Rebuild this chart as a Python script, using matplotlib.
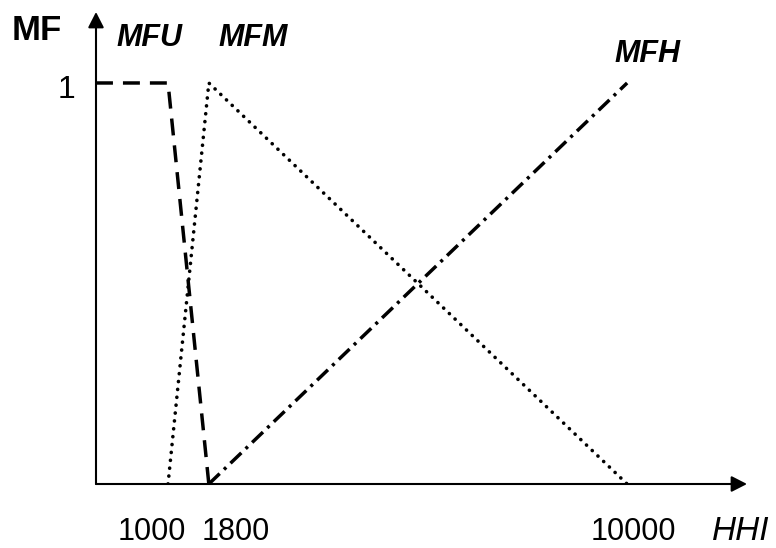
import matplotlib
matplotlib.use("Agg")
import matplotlib.pyplot as plt

plt.rcParams['font.family'] = ['Liberation Sans', 'DejaVu Sans']
plt.rcParams['lines.scale_dashes'] = False

# ---- data ----
X_MIN, X_MAX = -412, 12350
Y_MAX = 1.177
tick_values = [1000, 1800, 10000]
tick_labels = ["1000", "1800", "10000"]
mfu_x = [X_MIN, 1000, 1800]
mfu_y = [1, 1, 0]
mfm_x = [1000, 1800, 10000]
mfm_y = [0, 1, 0]
mfh_x = [1800, 10000]
mfh_y = [0, 1]
series_names = ["MFU", "MFM", "MFH"]

W, H = 776, 548
fig = plt.figure(figsize=(W / 100, H / 100), dpi=100)
ax = fig.add_axes([96 / W, (H - 484) / H, (747 - 96) / W, (484 - 12) / H])
ax.set_xlim(X_MIN, X_MAX)
ax.set_ylim(0, Y_MAX)
ax.axis('off')

# axes with arrows
arrow_kw = dict(arrowstyle='-|>,head_length=0.47,head_width=0.24', color='black',
                lw=1.5, mutation_scale=20, shrinkA=0, shrinkB=0)
ax.annotate('', xy=(1, 0), xytext=(0, 0), xycoords='axes fraction',
            textcoords='axes fraction', arrowprops=arrow_kw)
ax.annotate('', xy=(0, 1), xytext=(0, 0), xycoords='axes fraction',
            textcoords='axes fraction', arrowprops=arrow_kw)

# membership functions
ax.plot(mfu_x, mfu_y, color='black', lw=2.5, linestyle=(0, (12.2, 7.2)),
        dash_capstyle='butt', solid_joinstyle='miter')
ax.plot(mfm_x, mfm_y, color='black', lw=2.6, linestyle=(0, (0.1, 5.6)),
        dash_capstyle='round')
ax.plot(mfh_x, mfh_y, color='black', lw=2.5, linestyle=(0, (10.8, 4.3, 2.2, 4.3)),
        dash_capstyle='butt')

# tick labels
offsets = [-16, 27, 6]
for v, lab, dx in zip(tick_values, tick_labels, offsets):
    ax.annotate(lab, xy=(v, 0), xytext=(dx, -48), textcoords='offset pixels',
                ha='center', va='center', fontsize=22, annotation_clip=False)
ax.annotate("1", xy=(X_MIN, 1), xytext=(-30, -7), textcoords='offset pixels',
            ha='center', va='center', fontsize=23, annotation_clip=False)

# axis titles
fig.text(37 / W, 1 - 30 / H, "MF", fontsize=25, fontweight='bold',
         ha='center', va='center')
fig.text(741 / W, 1 - 532 / H, "HHI", fontsize=24, fontstyle='italic',
         ha='center', va='center')

# series labels
label_pos = [(149, 38), (253, 38), (647, 54)]
for name, (px, py) in zip(series_names, label_pos):
    fig.text(px / W, 1 - py / H, name, fontsize=22, fontweight='bold',
             fontstyle='italic', ha='center', va='center')

fig.savefig("out.png", dpi=100)
